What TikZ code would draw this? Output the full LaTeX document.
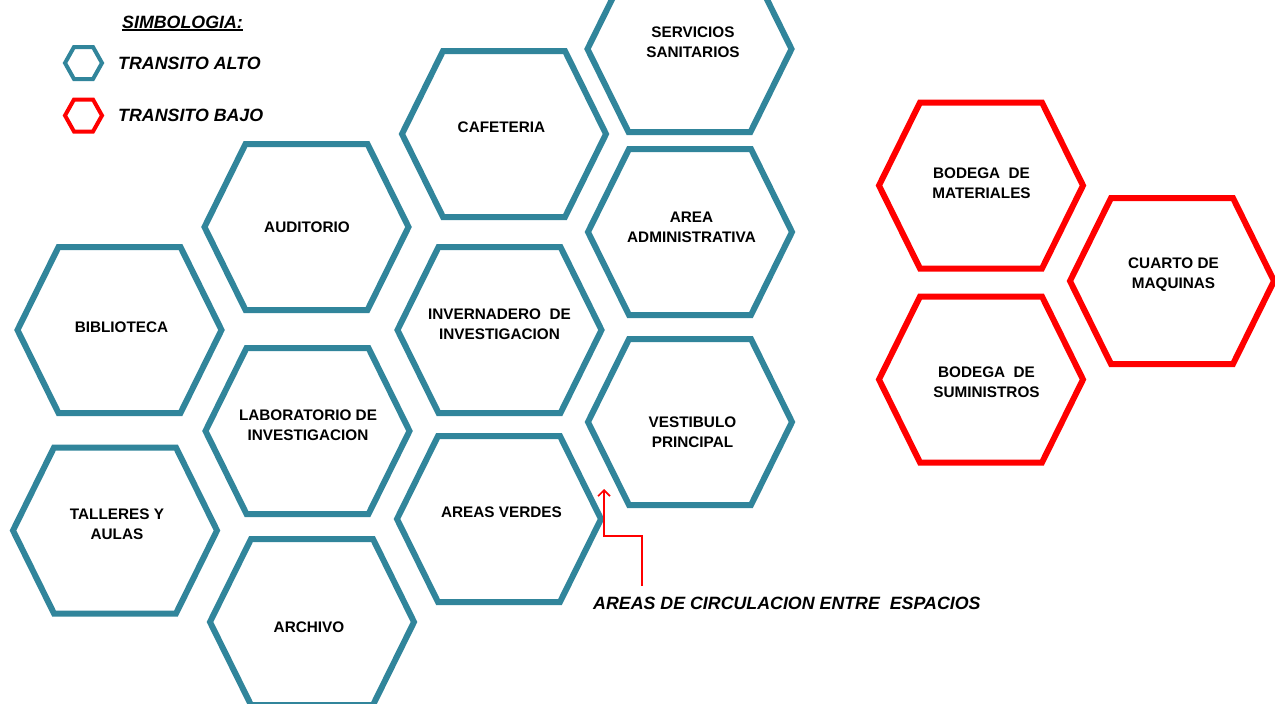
\documentclass[tikz,border=0pt]{standalone}
\usepackage{fontspec}
\setmainfont{Liberation Sans}
\usetikzlibrary{arrows.meta}
\definecolor{hexteal}{RGB}{49,133,155}
\definecolor{hexred}{RGB}{255,0,0}
\newcommand\bighex[3]{%
  \draw[#1,shift={(#2,#3)}] (-102,0) -- (-61,-83) -- (61,-83) -- (102,0) -- (61,83) -- (-61,83) -- cycle;}
\newcommand\smallhex[3]{%
  \draw[#1,shift={(#2,#3)}] (-18.5,0) -- (-9.5,-16) -- (9.5,-16) -- (18.5,0) -- (9.5,16) -- (-9.5,16) -- cycle;}
\begin{document}
\begin{tikzpicture}[x=1pt,y=-1pt,
  tealhex/.style={draw=hexteal,line width=6pt,line join=miter},
  redhex/.style={draw=hexred,line width=6pt,line join=miter},
  tealleg/.style={draw=hexteal,line width=4pt,line join=miter},
  redleg/.style={draw=hexred,line width=4pt,line join=miter},
  hexlabel/.style={font=\fontsize{15.3}{20}\selectfont\bfseries,align=center,inner sep=0pt,text=black},
  legtext/.style={font=\fontsize{17.8}{21}\selectfont\bfseries\itshape,inner sep=0pt,anchor=west,text=black},
  arrowline/.style={draw=hexred,line width=1.6pt,-{Straight Barb[length=6pt,width=12pt]}}]
\clip (0,0) rectangle (1275,704);
\fill[white] (0,0) rectangle (1275,704);

% legend
\node[legtext] (simb) at (122,22) {SIMBOLOGIA:};
\draw[line width=1.5pt] ([yshift=-1.5pt]simb.south west) -- ([yshift=-1.5pt]simb.south east);
\smallhex{tealleg}{83.5}{63}
\node[legtext] (alto) at (118,63) {TRANSITO ALTO};
\smallhex{redleg}{83.5}{115.5}
\node[legtext] (bajo) at (118,115) {TRANSITO BAJO};

% teal hexagons
\bighex{tealhex}{689.5}{49}
\node[hexlabel] (serv) at (693,42) {SERVICIOS\\SANITARIOS};
\bighex{tealhex}{504}{134}
\node[hexlabel] (caf) at (501.5,127) {CAFETERIA};
\bighex{tealhex}{306.5}{227}
\node[hexlabel] (aud) at (307,227) {AUDITORIO};
\bighex{tealhex}{690}{232}
\node[hexlabel] (adm) at (691.5,227) {AREA\\ADMINISTRATIVA};
\bighex{tealhex}{119.5}{330}
\node[hexlabel] (bib) at (121.5,327) {BIBLIOTECA};
\bighex{tealhex}{499.5}{330}
\node[hexlabel] (inv) at (499.5,324) {INVERNADERO\ \ DE\\INVESTIGACION};
\bighex{tealhex}{307.5}{431}
\node[hexlabel] (lab) at (308,425) {LABORATORIO DE\\INVESTIGACION};
\bighex{tealhex}{690}{422}
\node[hexlabel] (ves) at (692.5,432) {VESTIBULO\\PRINCIPAL};
\bighex{tealhex}{115}{530.5}
\node[hexlabel] (tal) at (117,524) {TALLERES Y\\AULAS};
\bighex{tealhex}{499}{519}
\node[hexlabel] (ver) at (501.5,512) {AREAS VERDES};
\bighex{tealhex}{312}{622}
\node[hexlabel] (arc) at (309,627) {ARCHIVO};

% red hexagons
\bighex{redhex}{981}{185.5}
\node[hexlabel] (bmat) at (981.5,183) {BODEGA\ \ DE\\MATERIALES};
\bighex{redhex}{1172}{281}
\node[hexlabel] (cuarto) at (1173.5,275) {CUARTO DE\\MAQUINAS};
\bighex{redhex}{981}{379.5}
\node[hexlabel] (bsum) at (986.5,382.5) {BODEGA\ \ DE\\SUMINISTROS};

% circulation arrow
\node[legtext] (circ) at (593,603) {AREAS DE CIRCULACION ENTRE\ \ ESPACIOS};
\coordinate (circfoot) at (642,586);
\coordinate (circtip) at (604,489);
\draw[arrowline] (circfoot) -- ++(0,-50) -| (circtip);
\end{tikzpicture}
\end{document}
